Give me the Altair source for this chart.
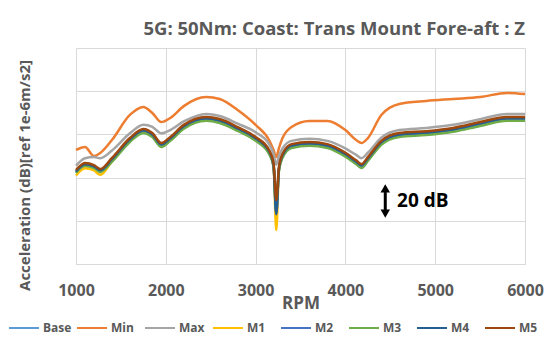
import altair as alt
import pandas as pd

rpm = [1000, 1100, 1200, 1270, 1400, 1600, 1750, 1850, 1950, 2050, 2200, 2450, 2600, 2800, 3000,
       3150, 3200, 3230, 3260, 3300, 3400, 3600, 3800, 4000, 4120, 4180, 4250, 4400, 4600, 4900,
       5200, 5500, 5800, 6000]

base = [42.0, 45.3, 44.3, 42.5, 47.6, 56.8, 61.0, 59.1, 54.5, 57.3, 62.9, 66.6, 65.6, 61.9, 57.3,
        51.3, 45.3, 27.0, 43.5, 49.5, 54.0, 55.0, 54.0, 50.0, 46.5, 44.6, 48.0, 55.5, 59.1, 60.0,
        61.5, 64.2, 66.6, 66.6]
mn = [52.8, 54.2, 50.0, 51.4, 57.4, 69.0, 72.7, 69.9, 65.7, 67.6, 73.1, 77.3, 76.4, 71.3, 64.4,
      57.4, 52.8, 49.5, 53.7, 58.3, 63.4, 66.2, 66.2, 62.0, 57.4, 56.0, 58.3, 69.0, 74.1, 75.5,
      76.4, 77.3, 79.2, 78.7]
mx = [45.5, 49.0, 49.5, 49.0, 52.5, 60.5, 64.5, 63.5, 60.5, 62.0, 66.0, 69.5, 68.5, 65.0, 61.0,
      55.5, 51.0, 46.0, 50.0, 53.5, 57.0, 58.0, 57.0, 53.5, 50.5, 49.0, 51.5, 58.5, 62.0, 63.0,
      64.5, 67.0, 69.5, 69.5]
m1 = [41.0, 44.3, 43.3, 41.3, 47.6, 57.1, 61.3, 59.4, 54.8, 57.6, 63.2, 66.9, 65.9, 62.2, 57.6,
      51.6, 45.6, 15.7, 43.5, 49.8, 54.3, 55.3, 54.3, 50.3, 46.8, 45.1, 48.3, 55.8, 59.4, 60.3,
      61.8, 64.5, 66.9, 66.9]
m2 = [42.5, 45.8, 44.8, 43.0, 48.1, 57.3, 61.5, 59.6, 55.0, 57.8, 63.4, 67.1, 66.1, 62.4, 57.8,
      51.8, 45.5, 23.5, 43.8, 50.0, 54.5, 55.5, 54.5, 50.5, 47.0, 45.3, 48.5, 56.0, 59.6, 60.5,
      62.0, 64.7, 67.1, 67.1]
m3 = [42.3, 45.5, 44.5, 42.7, 47.3, 56.5, 60.7, 58.8, 54.2, 57.0, 62.6, 66.3, 65.3, 61.6, 57.0,
      51.0, 45.0, 25.5, 43.2, 49.2, 53.7, 54.7, 53.7, 49.7, 46.2, 44.5, 47.7, 55.2, 58.8, 59.7,
      61.2, 63.9, 66.3, 66.3]
m4 = [42.9, 46.2, 45.2, 43.4, 48.5, 57.7, 61.9, 60.0, 55.4, 58.2, 63.8, 67.5, 66.5, 62.8, 58.2,
      52.2, 46.0, 23.0, 44.4, 50.4, 54.9, 55.9, 54.9, 50.9, 47.4, 45.7, 48.9, 56.4, 60.0, 60.9,
      62.4, 65.1, 67.5, 67.5]
m5 = [43.5, 46.8, 45.8, 44.0, 49.1, 58.3, 62.5, 60.6, 56.0, 58.8, 64.4, 68.1, 67.1, 63.4, 58.8,
      52.8, 46.8, 29.6, 45.0, 51.0, 55.5, 56.5, 55.5, 51.5, 48.0, 46.3, 49.5, 57.0, 60.6, 61.5,
      63.0, 65.7, 68.1, 68.1]

series_names = ["Base", "Min", "Max", "M1", "M2", "M3", "M4", "M5"]
series_vals = [base, mn, mx, m1, m2, m3, m4, m5]
colors = ["#5B9BD5", "#ED7D31", "#A5A5A5", "#FFC000", "#4472C4", "#70AD47", "#255E91", "#9E480E"]
x_ticks = [1000, 2000, 3000, 4000, 5000, 6000]
y_grid = [0, 20, 40, 60, 80, 100]

rows = []
for i, (name, vals) in enumerate(zip(series_names, series_vals)):
    for r, v in zip(rpm, vals):
        rows.append({"rpm": r, "value": v, "series": name, "order": i})
df = pd.DataFrame(rows)

FONT = "Open Sans"
GREY = "#595959"

xscale = alt.Scale(domain=[1000, 6000], nice=False, zero=False)
yscale = alt.Scale(domain=[0, 100], nice=False, zero=False)

lines = alt.Chart(df).mark_line(strokeWidth=2.5, interpolate="monotone").encode(
    x=alt.X("rpm:Q", scale=xscale,
            axis=alt.Axis(values=x_ticks, title="RPM", labelFontSize=16, labelFont=FONT,
                          labelFontWeight="bold", labelColor=GREY, titleFont=FONT,
                          titleFontSize=17, titleFontWeight="bold", titleColor=GREY,
                          titlePadding=-3, labelPadding=18, labelFlush=False, ticks=False,
                          domainColor="#D9D9D9", gridColor="#D9D9D9", format="d")),
    y=alt.Y("value:Q", scale=yscale,
            axis=alt.Axis(values=y_grid, labels=False, ticks=False,
                          title="Acceleration (dB)[ref 1e-6m/s2]", titleFont=FONT,
                          titleFontSize=15, titleFontWeight="bold", titleColor=GREY,
                          titleX=-52, titleY=127, titleAngle=270, titleAlign="center",
                          titleBaseline="middle", domainColor="#D9D9D9", gridColor="#D9D9D9")),
    color=alt.Color("series:N", scale=alt.Scale(domain=series_names, range=colors),
                    legend=alt.Legend(orient="none", legendX=-68, legendY=264, direction="horizontal",
                                      title=None, symbolType="stroke", symbolSize=900,
                                      symbolStrokeWidth=2, labelFont=FONT, labelFontSize=12,
                                      labelFontWeight="bold", labelColor=GREY, labelOffset=3,
                                      columnPadding=1, gridAlign="all", columns=8)),
    order=alt.Order("order:Q"),
    detail="series:N",
)

arrow_df = pd.DataFrame({"rpm": [4444], "y1": [25.0], "y2": [33.3]})
shaft = alt.Chart(arrow_df).mark_rule(strokeWidth=3, color="black").encode(
    x="rpm:Q", y="y1:Q", y2="y2:Q")
heads_df = pd.DataFrame({"rpm": [4444, 4444], "value": [35.0, 23.3],
                         "shape": ["triangle-up", "triangle-down"]})
heads = alt.Chart(heads_df).mark_point(filled=True, color="black", size=90, opacity=1).encode(
    x="rpm:Q", y="value:Q",
    shape=alt.Shape("shape:N", scale=None, legend=None))
label_df = pd.DataFrame({"rpm": [4575], "value": [29.2], "text": ["20 dB"]})
label = alt.Chart(label_df).mark_text(align="left", baseline="middle", fontSize=19,
                                      fontWeight="bold", font=FONT, color="black").encode(
    x="rpm:Q", y="value:Q", text="text:N")

chart = alt.layer(lines, shaft, heads, label).properties(
    width=449, height=216,
    title=alt.TitleParams("5G: 50Nm: Coast: Trans Mount Fore-aft : Z", anchor="end", frame="group",
                          fontSize=18.5, font=FONT, fontWeight="bold", color=GREY, offset=10),
    autosize=alt.AutoSizeParams(type="none"),
    padding={"left": 76, "top": 48, "right": 33, "bottom": 76},
).configure_view(stroke=None)

chart.save("out.html", embed_options={"renderer": "svg", "actions": False})
